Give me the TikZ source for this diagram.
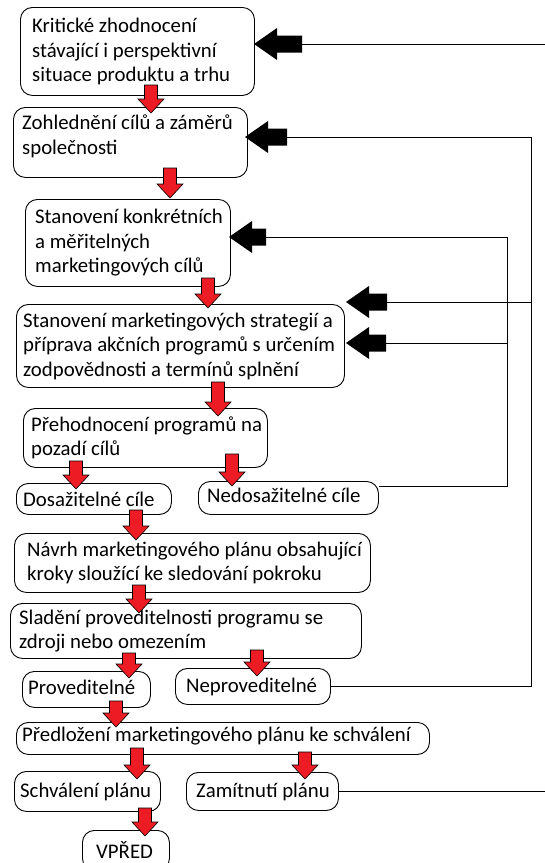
\documentclass[tikz,border=0pt]{standalone}
\usepackage{fontspec}
\setmainfont{Carlito}
\usetikzlibrary{positioning}
\definecolor{paintred}{RGB}{237,28,36}
\begin{document}
\begin{tikzpicture}
[
    x=1pt, y=-1pt,
    stepbox/.style={draw, line width=0.9pt, rounded corners=12pt, anchor=north west, inner sep=0pt},
    boxtext/.style={inner sep=0pt, align=left, font=\fontsize{20.8}{24.5}\selectfont},
    redarrow/.style={draw=black, line width=0.6pt, fill=paintred, line join=miter},
    blackarrow/.style={fill=black},
    feedback/.style={draw, line width=0.8pt}
]
    \useasboundingbox (0,0) rectangle (545,863);
    \clip (0,0) rectangle (545,863);

    % boxes
    \node [stepbox, minimum width=234pt, minimum height=88pt] (crit) at (20,7) {};
    \node [stepbox, minimum width=234pt, minimum height=70pt] (zohl) at (13,107) {};
    \node [stepbox, minimum width=205pt, minimum height=87pt] (stancil) at (25,199) {};
    \node [stepbox, minimum width=328pt, minimum height=83pt] (stanstrat) at (16,304) {};
    \node [stepbox, minimum width=244pt, minimum height=59pt] (prehod) at (23,408) {};
    \node [stepbox, minimum width=155pt, minimum height=31pt] (dosaz) at (16,483) {};
    \node [stepbox, minimum width=180pt, minimum height=33pt] (nedosaz) at (198,481) {};
    \node [stepbox, minimum width=356pt, minimum height=59pt] (navrh) at (14,533) {};
    \node [stepbox, minimum width=351pt, minimum height=55pt] (slad) at (10,603) {};
    \node [stepbox, minimum width=128pt, minimum height=36pt] (prov) at (22,671) {};
    \node [stepbox, minimum width=155pt, minimum height=36pt] (neprov) at (175,668) {};
    \node [stepbox, minimum width=413pt, minimum height=32pt] (predl) at (16,722) {};
    \node [stepbox, minimum width=146pt, minimum height=40pt] (schval) at (14,771) {};
    \node [stepbox, minimum width=152pt, minimum height=38pt] (zamit) at (186,772) {};
    \node [stepbox, minimum width=87pt, minimum height=40pt] (vpred) at (82,830) {};

    % texts
    \node [boxtext, right=12pt of crit.west] (crittext) {Kritické zhodnocení\\stávající i perspektivní\\situace produktu a trhu};
    \node [boxtext, right=9pt of zohl.west, yshift=6pt] (zohltext) {Zohlednění cílů a záměrů\\společnosti};
    \node [boxtext, right=10pt of stancil.west] (stanciltext) {Stanovení konkrétních\\a měřitelných\\marketingových cílů};
    \node [boxtext, right=7pt of stanstrat.west] (stanstrattext) {Stanovení marketingových strategií a\\příprava akčních programů s určením\\zodpovědnosti a termínů splnění};
    \node [boxtext, right=8pt of prehod.west] (prehodtext) {Přehodnocení programů na\\pozadí cílů};
    \node [boxtext, right=7pt of dosaz.west] (dosaztext) {Dosažitelné cíle};
    \node [boxtext, right=9pt of nedosaz.west, yshift=3pt] (nedosaztext) {Nedosažitelné cíle};
    \node [boxtext, right=13pt of navrh.west] (navrhtext) {Návrh marketingového plánu obsahující\\kroky sloužící ke sledování pokroku};
    \node [boxtext, right=9pt of slad.west] (sladtext) {Sladění proveditelnosti programu se\\zdroji nebo omezením};
    \node [boxtext, right=6pt of prov.west, yshift=2pt] (provtext) {Proveditelné};
    \node [boxtext, right=11pt of neprov.west] (neprovtext) {Neproveditelné};
    \node [boxtext, right=6pt of predl.west, yshift=2pt] (predltext) {Předložení marketingového plánu ke schválení};
    \node [boxtext, right=6pt of schval.west] (schvaltext) {Schválení plánu};
    \node [boxtext, right=10pt of zamit.west] (zamittext) {Zamítnutí plánu};
    \node [boxtext, right=14pt of vpred.west] (vpredtext) {VPŘED};

    % feedback lines
    \coordinate (edge1) at (545,44);
    \coordinate (edge2) at (545,790);
    \coordinate (tail1) at (302,44);
    \coordinate (tail2) at (287,137);
    \coordinate (tail3) at (266,237);
    \coordinate (tail4) at (387,302);
    \coordinate (tail5) at (386,343);
    \coordinate (railA) at (531,137);
    \coordinate (railB) at (507,237);
    \draw [feedback] (edge1) -- (tail1);
    \draw [feedback] (neprov.east) -| (railA) -- (tail2);
    \draw [feedback] (tail4) -- (tail4 -| railA);
    \draw [feedback] ([yshift=-5pt]nedosaz.north east) -| (railB) -- (tail3);
    \draw [feedback] (tail5) -- (tail5 -| railB);
    \draw [feedback] (zamit.east) -- (zamit.east -| edge2);

    % black arrows
    \foreach \xa/\xb/\y in {254/302/44, 245/287/137, 229/266/237, 346/387/302, 346/386/343}
        \fill [blackarrow] (\xa,\y) -- ({\xa+23},{\y-16}) -- ({\xa+23},{\y-8.5}) -- (\xb,{\y-8.5})
            -- (\xb,{\y+8.5}) -- ({\xa+23},{\y+8.5}) -- ({\xa+23},{\y+16}) -- cycle;

    % red arrows
    \foreach \x/\ya/\yb in {151/85/113, 170/168/198, 208/278/308, 218/382/416, 76/461/489,
        232/454/486, 136/510/540, 139/585/613, 129/653/678, 257/650/676, 116/701/727,
        137/748/779, 305/752/779, 145/808/836}
        \draw [redarrow] ({\x-6.5},\ya) -- ({\x+6.5},\ya) -- ({\x+6.5},{\yb-14}) -- ({\x+13},{\yb-14})
            -- (\x,\yb) -- ({\x-13},{\yb-14}) -- ({\x-6.5},{\yb-14}) -- cycle;
\end{tikzpicture}
\end{document}
